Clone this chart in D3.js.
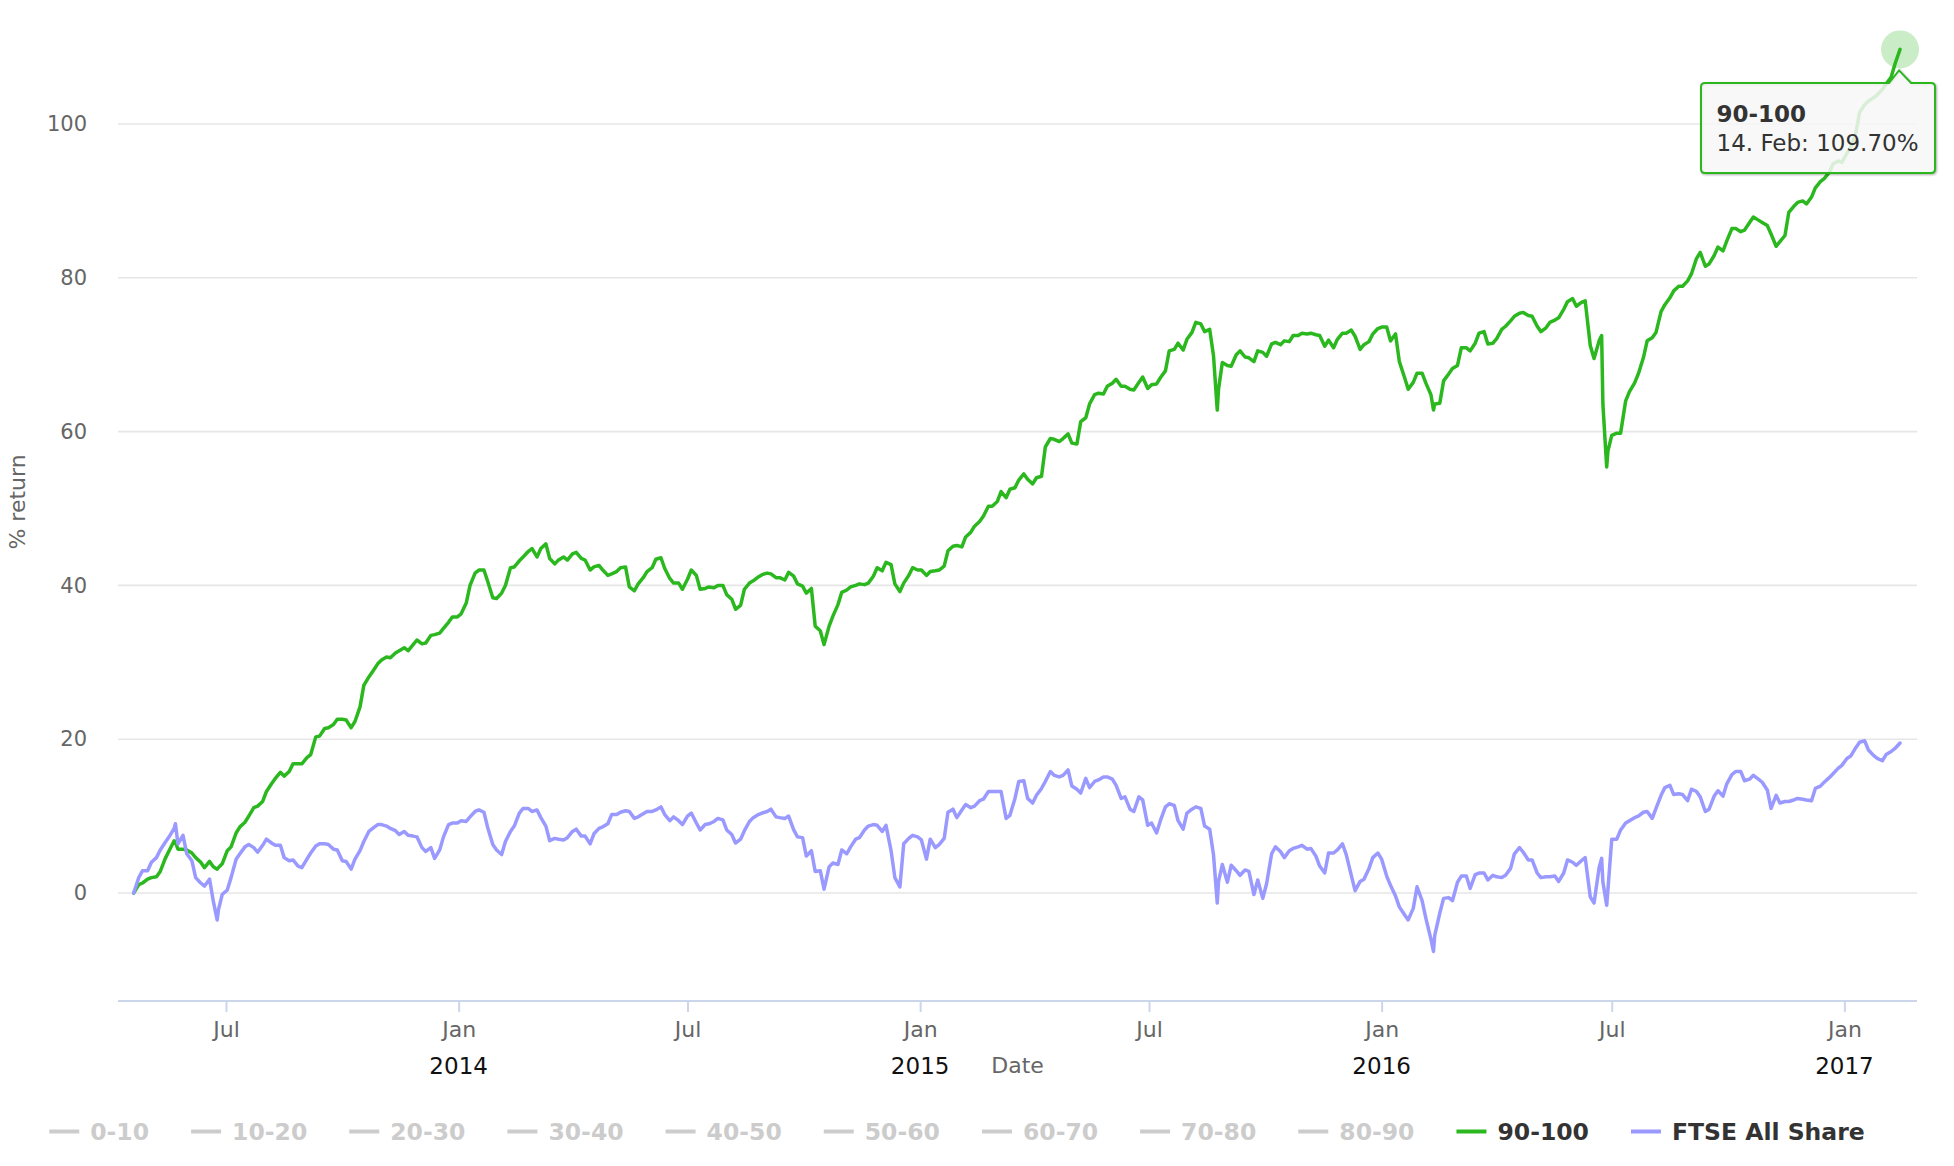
<!DOCTYPE html>
<html><head><meta charset="utf-8">
<script src="https://cdn.jsdelivr.net/npm/d3@7"></script>
<style>
html,body{margin:0;padding:0;background:#fff;}
svg{display:block;}
text{font-family:"DejaVu Sans","Noto Sans",sans-serif;}
</style></head><body>
<svg id="chart" width="1954" height="1166"></svg>
<script>
// ---------------- DATA (dates, "90-100" decile % return, FTSE All Share % return) ----------------
const dates2013 = ["2013-04-19","2013-04-23","2013-04-26","2013-04-30","2013-05-03","2013-05-07","2013-05-10","2013-05-14","2013-05-17","2013-05-21","2013-05-22","2013-05-24","2013-05-28","2013-05-31","2013-06-04","2013-06-07","2013-06-11","2013-06-14","2013-06-18","2013-06-21","2013-06-24","2013-06-25","2013-06-28","2013-07-02","2013-07-05","2013-07-09","2013-07-12","2013-07-16","2013-07-19","2013-07-23","2013-07-26","2013-07-30","2013-08-02","2013-08-06","2013-08-09","2013-08-13","2013-08-16","2013-08-20","2013-08-23","2013-08-27","2013-08-30","2013-09-03","2013-09-06","2013-09-10","2013-09-13","2013-09-17","2013-09-20","2013-09-24","2013-09-27","2013-10-01","2013-10-04","2013-10-08","2013-10-11","2013-10-15","2013-10-18","2013-10-22","2013-10-25","2013-10-29","2013-11-01","2013-11-05","2013-11-08","2013-11-12","2013-11-15","2013-11-19","2013-11-22","2013-11-26","2013-11-29","2013-12-03","2013-12-06","2013-12-10","2013-12-13","2013-12-17","2013-12-20","2013-12-24","2013-12-27","2013-12-31"];
const top2013 = [0,1.1,1.3,1.8,2.0,2.1,2.8,4.5,5.5,6.8, 6.6,5.7,5.7,5.6,5.2,4.6,4.0,3.3,4.1,3.4, 3.1,3.3,3.8,5.5,6.0,7.8,8.6,9.2,10.0,11.1, 11.3,11.9,13.2,14.2,14.9,15.7,15.2,15.8,16.8,16.8, 16.8,17.6,18.0,20.3,20.4,21.4,21.5,21.9,22.6,22.6, 22.5,21.5,22.3,24.2,27.0,28.1,28.8,29.8,30.3,30.7, 30.6,31.2,31.5,31.9,31.5,32.3,32.9,32.4,32.5,33.5, 33.6,33.8,34.4,35.2,35.9,35.9];
const ftse2013 = [0,2.0,2.9,2.9,4.0,4.6,5.6,6.6,7.3,8.4, 9.0,6.4,7.5,5.1,4.2,2.0,1.3,0.9,1.8,-1.1, -3.5,-2.2,-0.2,0.4,2.0,4.4,5.1,6.0,6.3,5.9, 5.3,6.2,7.0,6.5,6.2,6.2,4.6,4.2,4.3,3.5, 3.3,4.4,5.2,6.1,6.4,6.4,6.3,5.7,5.6,4.2, 4.1,3.1,4.4,5.5,6.7,8.0,8.4,8.9,8.9,8.7, 8.4,8.1,7.6,8.0,7.5,7.4,7.3,5.9,5.4,5.9, 4.5,5.6,7.3,8.9,9.1,9.1];

const dates2014 = ["2014-01-03","2014-01-07","2014-01-10","2014-01-14","2014-01-17","2014-01-21","2014-01-24","2014-01-28","2014-01-31","2014-02-04","2014-02-07","2014-02-11","2014-02-14","2014-02-18","2014-02-21","2014-02-25","2014-02-28","2014-03-04","2014-03-07","2014-03-11","2014-03-14","2014-03-18","2014-03-21","2014-03-25","2014-03-28","2014-04-01","2014-04-04","2014-04-08","2014-04-11","2014-04-15","2014-04-18","2014-04-22","2014-04-25","2014-04-29","2014-05-02","2014-05-06","2014-05-09","2014-05-13","2014-05-16","2014-05-20","2014-05-23","2014-05-27","2014-05-30","2014-06-03","2014-06-06","2014-06-10","2014-06-13","2014-06-17","2014-06-20","2014-06-24","2014-06-27","2014-07-01","2014-07-04","2014-07-08","2014-07-11","2014-07-15","2014-07-18","2014-07-22","2014-07-25","2014-07-29","2014-08-01","2014-08-05","2014-08-08","2014-08-12","2014-08-15","2014-08-19","2014-08-22","2014-08-26","2014-08-29","2014-09-02","2014-09-05","2014-09-09","2014-09-12","2014-09-16","2014-09-19","2014-09-23","2014-09-26","2014-09-30","2014-10-03","2014-10-07","2014-10-10","2014-10-14","2014-10-17","2014-10-21","2014-10-24","2014-10-28","2014-10-31","2014-11-04","2014-11-07","2014-11-11","2014-11-14","2014-11-18","2014-11-21","2014-11-25","2014-11-28","2014-12-02","2014-12-05","2014-12-09","2014-12-12","2014-12-16","2014-12-19","2014-12-23","2014-12-26","2014-12-30"];
const top2014 = [36.3,37.7,40.0,41.6,42.0,42.0,40.5,38.4,38.3,39.0, 40.0,42.3,42.4,43.2,43.7,44.4,44.8,43.7,44.8,45.4, 43.5,42.8,43.3,43.7,43.3,44.1,44.3,43.5,43.3,42.0, 42.4,42.6,42.0,41.3,41.5,41.8,42.3,42.4,39.8,39.3, 40.2,41.0,41.8,42.3,43.4,43.6,42.2,40.9,40.3,40.3, 39.5,40.8,42.0,41.3,39.5,39.6,39.8,39.7,40.0,40.0, 38.8,38.2,36.9,37.4,39.5,40.3,40.6,41.1,41.4,41.6, 41.5,41.0,41.0,40.7,41.7,41.2,40.2,39.9,39.0,39.6, 34.7,34.1,32.3,34.7,36.0,37.5,39.1,39.4,39.8,40.0, 40.2,40.1,40.3,41.2,42.3,41.9,43.0,42.7,40.2,39.2, 40.3,41.3,42.3,42.0];
const ftse2014 = [9.4,9.3,9.9,10.6,10.8,10.5,8.5,6.3,5.6,5.0, 6.7,8.0,8.7,10.4,11.0,11.0,10.6,10.8,9.8,8.7, 6.8,7.1,7.0,6.9,7.2,8.0,8.3,7.4,7.4,6.4, 7.7,8.4,8.6,9.0,10.2,10.2,10.5,10.7,10.6,9.7, 9.9,10.3,10.6,10.6,10.8,11.2,10.2,9.4,9.9,9.4, 8.9,10.0,10.4,9.1,8.2,8.9,9.0,9.3,9.7,9.5, 8.2,7.6,6.5,7.0,8.1,9.3,9.8,10.2,10.4,10.6, 10.9,9.9,9.8,9.7,10.0,8.2,7.3,7.2,4.8,5.5, 2.8,2.9,0.5,3.4,3.9,3.7,5.6,5.1,6.0,7.0, 7.2,8.2,8.7,8.9,8.8,8.0,8.8,5.5,2.0,0.8, 6.4,7.1,7.5,7.3];

const dates2015 = ["2015-01-02","2015-01-06","2015-01-09","2015-01-13","2015-01-16","2015-01-20","2015-01-23","2015-01-27","2015-01-30","2015-02-03","2015-02-06","2015-02-10","2015-02-13","2015-02-17","2015-02-20","2015-02-24","2015-02-27","2015-03-03","2015-03-06","2015-03-10","2015-03-13","2015-03-17","2015-03-20","2015-03-24","2015-03-27","2015-03-31","2015-04-03","2015-04-07","2015-04-10","2015-04-14","2015-04-17","2015-04-21","2015-04-24","2015-04-28","2015-05-01","2015-05-05","2015-05-08","2015-05-12","2015-05-15","2015-05-19","2015-05-22","2015-05-26","2015-05-29","2015-06-02","2015-06-05","2015-06-09","2015-06-12","2015-06-16","2015-06-19","2015-06-23","2015-06-26","2015-06-30","2015-07-03","2015-07-07","2015-07-10","2015-07-14","2015-07-17","2015-07-21","2015-07-24","2015-07-28","2015-07-31","2015-08-04","2015-08-07","2015-08-11","2015-08-14","2015-08-18","2015-08-21","2015-08-24","2015-08-25","2015-08-28","2015-09-01","2015-09-04","2015-09-08","2015-09-11","2015-09-15","2015-09-18","2015-09-22","2015-09-25","2015-09-29","2015-10-02","2015-10-06","2015-10-09","2015-10-13","2015-10-16","2015-10-20","2015-10-23","2015-10-27","2015-10-30","2015-11-03","2015-11-06","2015-11-10","2015-11-13","2015-11-17","2015-11-20","2015-11-24","2015-11-27","2015-12-01","2015-12-04","2015-12-08","2015-12-11","2015-12-15","2015-12-18","2015-12-22","2015-12-25","2015-12-29"];
const top2015 = [42.0,41.3,41.8,41.9,42.0,42.5,44.5,45.1,45.2,45.0, 46.3,46.9,47.7,48.3,49.0,50.3,50.3,50.9,52.2,51.4, 52.5,52.7,53.7,54.5,53.8,53.2,54.0,54.2,58.0,59.1, 59.0,58.7,59.1,59.7,58.5,58.4,61.3,61.8,63.6,64.8, 65.0,64.9,65.9,66.3,66.8,65.9,65.9,65.5,65.4,66.4, 67.1,65.6,66.1,66.2,67.0,67.9,70.5,70.7,71.5,70.6, 72.0,72.9,74.2,74.0,73.0,73.3,69.9,62.8,65.5,69.0, 68.6,68.5,70.0,70.5,69.7,69.6,69.1,70.5,70.3,69.8, 71.4,71.6,71.3,71.8,71.7,72.5,72.5,72.8,72.7,72.8, 72.6,72.5,71.1,71.9,70.9,72.0,72.8,72.8,73.2,72.4, 70.7,71.3,71.7,72.7,73.4];
const ftse2015 = [6.9,4.4,7.0,5.9,6.3,7.1,10.5,10.9,9.8,10.8, 11.5,11.1,11.3,12.0,12.2,13.2,13.2,13.2,13.2,9.7, 10.1,12.3,14.5,14.6,12.3,11.7,12.7,13.6,14.5,15.8, 15.3,15.1,15.3,16.0,13.9,13.5,13.0,14.9,13.7,14.5, 14.7,15.1,15.1,14.8,14.0,12.3,12.5,10.9,10.6,12.5, 12.1,8.8,9.1,7.8,9.4,11.2,11.6,11.4,9.4,8.3, 10.4,10.9,11.2,11.0,8.7,8.3,5.0,-1.3,1.5,3.7, 1.4,3.6,2.9,2.3,3.0,2.8,-0.2,1.7,-0.7,1.2, 5.1,6.0,5.4,4.6,5.5,5.8,6.0,6.2,5.7,5.8, 4.8,3.5,2.6,5.2,5.2,5.6,6.4,5.0,2.3,0.3, 1.5,1.8,3.2,4.6,5.2];

const dates2016 = ["2016-01-01","2016-01-05","2016-01-08","2016-01-12","2016-01-15","2016-01-19","2016-01-22","2016-01-26","2016-01-29","2016-02-02","2016-02-05","2016-02-09","2016-02-11","2016-02-12","2016-02-16","2016-02-19","2016-02-23","2016-02-26","2016-03-01","2016-03-04","2016-03-08","2016-03-11","2016-03-15","2016-03-18","2016-03-22","2016-03-25","2016-03-29","2016-04-01","2016-04-05","2016-04-08","2016-04-12","2016-04-15","2016-04-19","2016-04-22","2016-04-26","2016-04-29","2016-05-03","2016-05-06","2016-05-10","2016-05-13","2016-05-17","2016-05-20","2016-05-24","2016-05-27","2016-05-31","2016-06-03","2016-06-07","2016-06-10","2016-06-14","2016-06-17","2016-06-21","2016-06-23","2016-06-24","2016-06-27","2016-06-28","2016-07-01","2016-07-05","2016-07-08","2016-07-12","2016-07-15","2016-07-19","2016-07-22","2016-07-26","2016-07-29","2016-08-02","2016-08-05","2016-08-09","2016-08-12","2016-08-16","2016-08-19","2016-08-23","2016-08-26","2016-08-30","2016-09-02","2016-09-06","2016-09-09","2016-09-13","2016-09-16","2016-09-20","2016-09-23","2016-09-27","2016-09-30","2016-10-04","2016-10-07","2016-10-11","2016-10-14","2016-10-18","2016-10-21","2016-10-25","2016-10-28","2016-11-01","2016-11-04","2016-11-08","2016-11-11","2016-11-15","2016-11-18","2016-11-22","2016-11-25","2016-11-29","2016-12-02","2016-12-06","2016-12-09","2016-12-13","2016-12-16","2016-12-20","2016-12-23","2016-12-27","2016-12-30"];
const top2016 = [73.6,73.6,71.8,72.7,69.1,67.1,65.5,66.4,67.6,67.6, 66.3,64.8,62.8,63.6,63.7,66.6,67.5,68.2,68.6,70.9, 70.9,70.5,71.5,72.8,73.0,71.4,71.5,72.1,73.3,73.7, 74.4,75.0,75.4,75.5,75.1,75.0,73.7,73.0,73.5,74.2, 74.5,74.8,75.9,76.9,77.3,76.3,76.8,77.0,71.2,69.5, 71.8,72.5,63.5,55.4,57.5,59.5,59.8,59.8,64.0,65.2, 66.3,67.5,69.6,71.8,72.2,72.9,75.6,76.5,77.4,78.3, 78.9,78.9,79.6,80.5,82.5,83.3,81.5,81.8,82.9,84.0, 83.5,84.8,86.4,86.4,86.0,86.2,87.2,87.9,87.5,87.2, 86.8,85.7,84.1,84.7,85.5,88.5,89.3,89.8,90.0,89.6, 90.5,91.7,92.5,92.9,93.7,94.8,95.2,95.0];
const ftse2016 = [4.4,2.2,1.0,-0.4,-1.8,-2.8,-3.5,-2.0,0.8,-1.0, -3.3,-6.0,-7.6,-5.5,-2.6,-0.7,-0.6,-1.0,1.4,2.2, 2.2,0.6,2.4,2.6,2.6,1.7,2.3,2.1,2.0,2.3, 3.2,5.1,5.9,5.3,4.3,4.3,2.6,2.0,2.1,2.1, 2.2,1.5,2.6,4.3,4.0,3.6,4.2,4.6,-0.5,-1.3, 3.3,4.5,1.4,-1.6,0.5,7.0,7.0,8.2,9.1,9.4, 9.8,10.0,10.5,10.6,9.7,11.0,12.7,13.7,14.0,12.8, 12.9,12.8,12.0,13.5,13.2,12.5,10.6,10.9,12.6,13.3, 12.6,14.2,15.4,15.8,15.8,14.6,14.8,15.3,14.8,14.4, 13.4,11.0,12.7,11.7,11.9,11.9,12.1,12.3,12.2,12.1, 12.0,13.6,13.9,14.4,15.0,15.5,16.2,16.6];

const dates2017 = ["2017-01-03","2017-01-06","2017-01-10","2017-01-13","2017-01-17","2017-01-20","2017-01-24","2017-01-27","2017-01-31","2017-02-03","2017-02-07","2017-02-10","2017-02-14"];
const top2017 = [96.2,97.0,98.8,101.5,102.5,103.0,103.4,103.8,104.5,105.2,106.1,107.8,109.7];
const ftse2017 = [17.5,17.8,18.9,19.6,19.8,18.6,17.9,17.5,17.2,18.0,18.4,18.8,19.5];

const yTickValues = [0, 20, 40, 60, 80, 100];
const legendNames = ["0-10","10-20","20-30","30-40","40-50","50-60","60-70","70-80","80-90","90-100","FTSE All Share"];
const legendShown = [false,false,false,false,false,false,false,false,false,true,true];
const yTitle = "% return";
const xTitle = "Date";
const hoverSeriesName = "90-100";

// ---------------- BUILD ----------------
const dates = [].concat(dates2013, dates2014, dates2015, dates2016, dates2017);
const decile90 = [].concat(top2013, top2014, top2015, top2016, top2017);
const ftseAllShare = [].concat(ftse2013, ftse2014, ftse2015, ftse2016, ftse2017);

const GREEN = "#2bb81f";
const PURPLE = "#9999ff";
const HIDDEN = "#cccccc";

const plot = {left: 118, right: 1917, bottom: 1001};
const svg = d3.select("#chart");
const parse = d3.utcParse("%Y-%m-%d");
const dateObjs = dates.map(parse);

const x = d3.scaleUtc()
  .domain([new Date(Date.UTC(2013, 3, 6, 14)), new Date(Date.UTC(2017, 1, 27, 10))])
  .range([plot.left, plot.right]);

const pxPerUnit = 7.69;
const yMin = -(plot.bottom - 893) / pxPerUnit;
const yMax = 113;
const y = d3.scaleLinear()
  .domain([yMin, yMax])
  .range([plot.bottom, plot.bottom - (yMax - yMin) * pxPerUnit]);

// gridlines
svg.append("g").selectAll("line").data(yTickValues).join("line")
  .attr("x1", plot.left).attr("x2", plot.right)
  .attr("y1", d => y(d)).attr("y2", d => y(d))
  .attr("stroke", "#e6e6e6").attr("stroke-width", 1.6);

// y axis labels
const yAxis = d3.axisLeft(y).tickValues(yTickValues).tickSize(0).tickPadding(0).tickFormat(d3.format("d"));
const yg = svg.append("g").attr("transform", "translate(87,0)").call(yAxis);
yg.select(".domain").remove();
yg.selectAll("text").attr("font-size", 21).attr("fill", "#666").attr("font-family", "DejaVu Sans");

// y title
svg.append("text")
  .attr("transform", "translate(17.5,502) rotate(-90)")
  .attr("text-anchor", "middle").attr("dy", "0.35em")
  .attr("font-size", 22).attr("fill", "#666").text(yTitle);

// x axis
const xTicks = x.ticks(d3.utcMonth.every(6));
const xAxis = d3.axisBottom(x).tickValues(xTicks).tickSize(11).tickPadding(9)
  .tickFormat(d3.utcFormat("%b")).tickSizeOuter(0);
const xg = svg.append("g").attr("transform", `translate(0,${plot.bottom})`).call(xAxis);
xg.select(".domain").attr("stroke", "#ccd6eb").attr("stroke-width", 2)
  .attr("d", `M${plot.left},0H${plot.right}`);
xg.selectAll(".tick line").attr("stroke", "#ccd6eb").attr("stroke-width", 2);
xg.selectAll(".tick text").attr("font-size", 22).attr("fill", "#666").attr("font-family", "DejaVu Sans");

// year labels under January ticks
svg.append("g").selectAll("text").data(xTicks.filter(d => d.getUTCMonth() === 0)).join("text")
  .attr("x", d => x(d)).attr("y", 1074)
  .attr("text-anchor", "middle")
  .attr("font-family", "Liberation Sans, Arial, sans-serif")
  .attr("font-size", 23).attr("fill", "#111")
  .text(d3.utcFormat("%Y"));

// x title
svg.append("text")
  .attr("x", (plot.left + plot.right) / 2).attr("y", 1073)
  .attr("text-anchor", "middle").attr("font-size", 22).attr("fill", "#666")
  .text(xTitle);

// series
const line = d3.line().x(d => x(d.date)).y(d => y(d.v));
const s90 = dateObjs.map((d, i) => ({date: d, v: decile90[i]}));
const sFtse = dateObjs.map((d, i) => ({date: d, v: ftseAllShare[i]}));

svg.append("path").datum(s90).attr("d", line)
  .attr("fill", "none").attr("stroke", GREEN).attr("stroke-width", 3.5)
  .attr("stroke-linejoin", "round").attr("stroke-linecap", "round");
svg.append("path").datum(sFtse).attr("d", line)
  .attr("fill", "none").attr("stroke", PURPLE).attr("stroke-width", 3.5)
  .attr("stroke-linejoin", "round").attr("stroke-linecap", "round");

// hover halo on last point
const last = s90[s90.length - 1];
const px = x(last.date), py = y(last.v);
svg.append("circle").attr("cx", px).attr("cy", py).attr("r", 19)
  .attr("fill", GREEN).attr("fill-opacity", 0.25);

// tooltip callout
const bx1 = 1701, bx2 = 1935, by1 = 83, by2 = 173, r = 4;
const ax = px - 1, ay = py + 21;
const cpath = `M${bx1 + r},${by1} L${ax - 10},${by1} L${ax},${ay} L${ax + 12},${by1} L${bx2 - r},${by1} Q${bx2},${by1} ${bx2},${by1 + r} L${bx2},${by2 - r} Q${bx2},${by2} ${bx2 - r},${by2} L${bx1 + r},${by2} Q${bx1},${by2} ${bx1},${by2 - r} L${bx1},${by1 + r} Q${bx1},${by1} ${bx1 + r},${by1} Z`;
const tip = svg.append("g");
[[5, 0.05], [3, 0.1], [1, 0.15]].forEach(([w, o]) => {
  tip.append("path").attr("d", cpath).attr("transform", "translate(1,1)")
    .attr("fill", "none").attr("stroke", "#000").attr("stroke-opacity", o).attr("stroke-width", w);
});
tip.append("path").attr("d", cpath)
  .attr("fill", "rgba(247,247,247,0.85)").attr("stroke", GREEN).attr("stroke-width", 2);
tip.append("text").attr("x", 1716.5).attr("y", 121.5)
  .attr("font-size", 23).attr("font-weight", "bold").attr("fill", "#333").text(hoverSeriesName);
tip.append("text").attr("x", 1716.5).attr("y", 150.5)
  .attr("font-size", 23).attr("fill", "#333")
  .text(`${d3.utcFormat("%-d. %b")(last.date)}: ${last.v.toFixed(2)}%`);

// legend
const legendColors = legendNames.map((n, i) => legendShown[i] ? (n === "FTSE All Share" ? PURPLE : GREEN) : HIDDEN);
const lg = svg.append("g");
const ly = 1131.5, symW = 30, symGap = 11, itemDist = 42;
const items = legendNames.map((n, i) => {
  const g = lg.append("g");
  g.append("line").attr("x1", 0).attr("x2", symW).attr("y1", ly).attr("y2", ly)
    .attr("stroke", legendColors[i]).attr("stroke-width", 4);
  const t = g.append("text").attr("x", symW + symGap).attr("y", ly).attr("dy", "0.36em")
    .attr("font-size", 23.5).attr("font-weight", "bold")
    .attr("fill", legendShown[i] ? "#333" : HIDDEN).text(n);
  return {g, w: symW + symGap + t.node().getComputedTextLength()};
});
const total = d3.sum(items, d => d.w + itemDist);
let cx = 978 - total / 2;
items.forEach(it => { it.g.attr("transform", `translate(${cx},0)`); cx += it.w + itemDist; });
</script>
</body></html>
